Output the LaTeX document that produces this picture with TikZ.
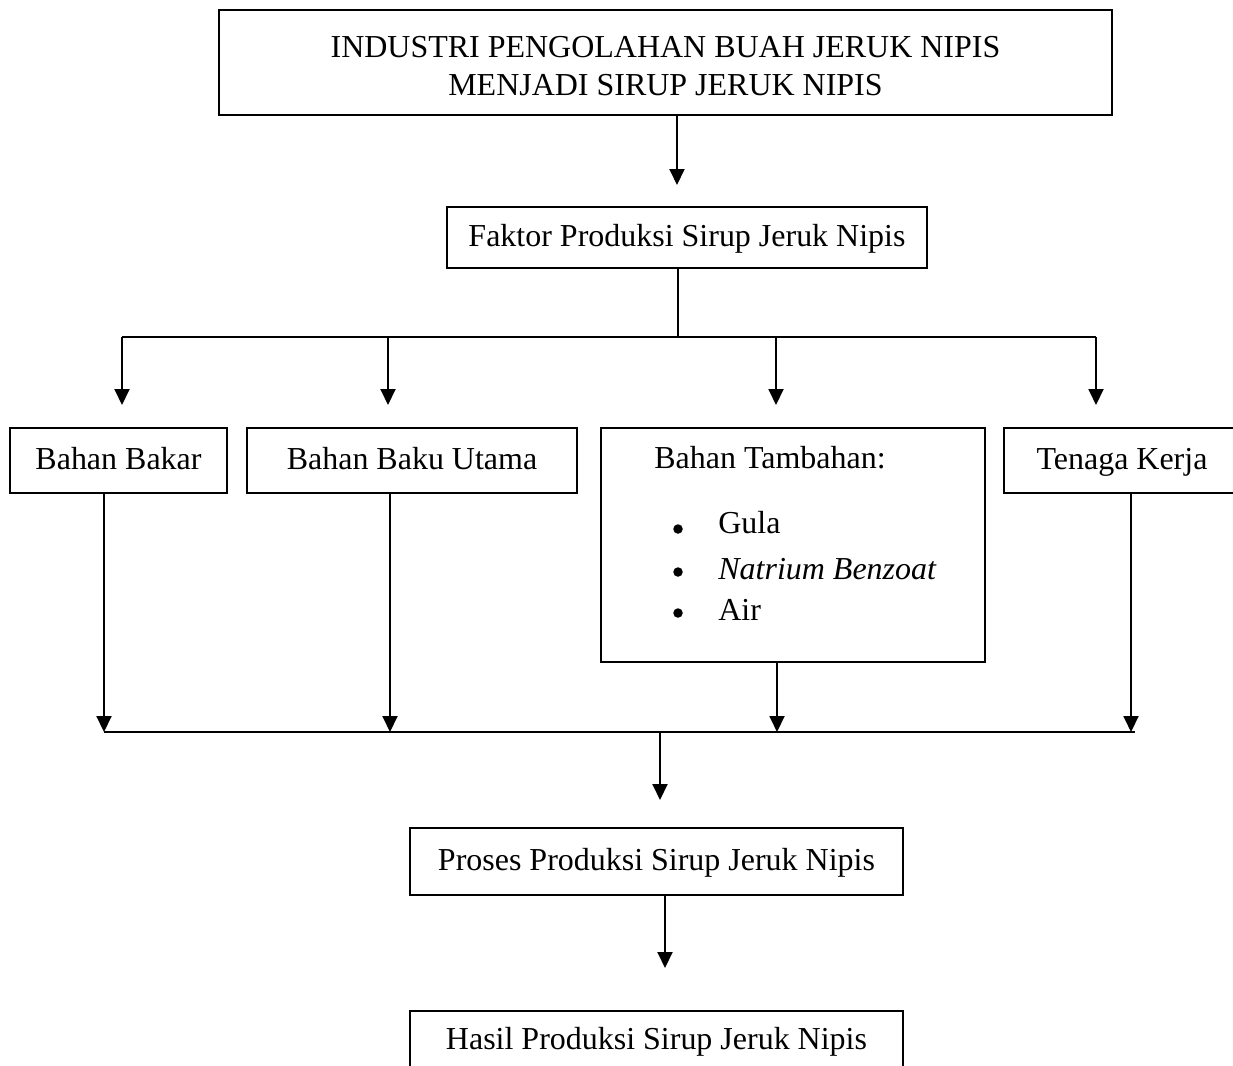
\documentclass[tikz,border=0pt]{standalone}
\usepackage{fontspec}
\setmainfont{Liberation Serif}
\usetikzlibrary{arrows.meta}

\tikzset{
  kotak/.style={draw, line width=1.1pt, inner sep=0pt, minimum height=1.3cm},
  satu/.style={text height=1em, text depth=0pt},
  titik/.style={circle, fill, inner sep=0pt, minimum size=0.19cm},
  panah/.style={line width=1.1pt, -{Triangle[length=0.32cm, width=0.3cm]}},
  garis/.style={line width=1.1pt}
}

\begin{document}
\begin{tikzpicture}[x=0.02cm, y=-0.02cm, font=\fontsize{18.2}{21.8}\selectfont]

\useasboundingbox (0,0) rectangle (1233,1065);
\clip (0,0) rectangle (1233,1065);

\def\ybagi{337};
\def\yatas{405};
\def\ygabung{732};

% kotak utama
\node[kotak, minimum width=17.86cm, minimum height=2.1cm] (industri) at (665.5,62.5) {};
\node[align=center, inner sep=0pt] (judulatas) at (665.5,66)
  {INDUSTRI PENGOLAHAN BUAH JERUK NIPIS\\MENJADI SIRUP JERUK NIPIS};
\node[kotak, satu, minimum width=9.6cm, minimum height=1.22cm] (faktor) at (687,237.5) {Faktor Produksi Sirup Jeruk Nipis};

% faktor produksi
\node[kotak, satu, minimum width=4.34cm] (bakar) at (118.5,460.5) {Bahan Bakar};
\node[kotak, satu, minimum width=6.6cm] (baku) at (412,460.5) {Bahan Baku Utama};
\node[kotak, minimum width=7.68cm, minimum height=4.68cm] (tambah) at (793,545) {};
\node[kotak, satu, minimum width=4.72cm] (tenaga) at (1122,460.5) {Tenaga Kerja};

\node[satu] (judul) at (770,460) {Bahan Tambahan:};
\node[titik] (b1) at (678,529) {};
\node[titik] (b2) at (678,572) {};
\node[titik] (b3) at (678,613) {};
\node[anchor=west, inner sep=0pt, satu] (gula) at (718,525) {Gula};
\node[anchor=west, inner sep=0pt, satu] (natrium) at (718,571) {\textit{Natrium Benzoat}};
\node[anchor=west, inner sep=0pt, satu] (air) at (718,612) {Air};

\node[kotak, satu, minimum width=9.86cm, minimum height=1.34cm] (proses) at (656.5,861.5) {Proses Produksi Sirup Jeruk Nipis};
\node[kotak, satu, minimum width=9.86cm, minimum height=1.2cm] (hasil) at (656.5,1041) {Hasil Produksi Sirup Jeruk Nipis};

% percabangan atas
\coordinate (t1) at (677,185);
\draw[panah] (industri.south -| t1) -- (t1);

\coordinate (bagi) at (678,\ybagi);
\coordinate (bagikiri) at (122,\ybagi);
\coordinate (bagikanan) at (1096,\ybagi);
\draw[garis] (faktor.south -| bagi) -- (bagi);
\draw[garis] (bagikiri) -- (bagikanan);

\foreach \x/\n in {122/1, 388/2, 776/3, 1096/4}{
  \coordinate (a\n) at (\x,\yatas);
  \draw[panah] (a\n |- bagi) -- (a\n);
}

% penggabungan bawah
\coordinate (g1) at (104,\ygabung);
\coordinate (g2) at (390,\ygabung);
\coordinate (g3) at (777,\ygabung);
\coordinate (g4) at (1131,\ygabung);
\draw[panah] (bakar.south -| g1) -- (g1);
\draw[panah] (baku.south -| g2) -- (g2);
\draw[panah] (tambah.south -| g3) -- (g3);
\draw[panah] (tenaga.south -| g4) -- (g4);
\coordinate (gkanan) at (1135,\ygabung);
\draw[garis] (g1) -- (gkanan);

\coordinate (t2) at (660,800);
\draw[panah] (t2 |- g1) -- (t2);
\coordinate (t3) at (665,968);
\draw[panah] (proses.south -| t3) -- (t3);

\end{tikzpicture}
\end{document}
